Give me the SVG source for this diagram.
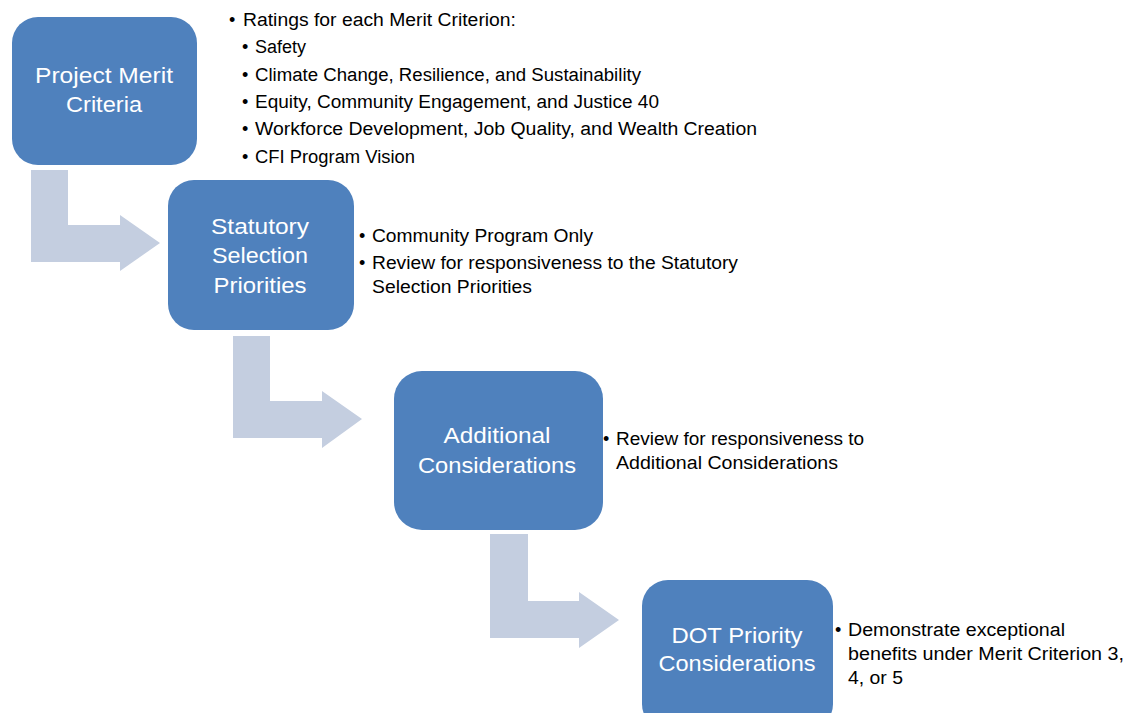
<svg xmlns="http://www.w3.org/2000/svg" width="1134" height="713" viewBox="0 0 1134 713">
<style>
.box{fill:#4F81BD;}
.arr{fill:#C4CEE0;}
.t{font-family:"Liberation Sans",Arial,sans-serif;font-size:22px;fill:#FFFFFF;text-anchor:middle;}
.b{font-family:"Liberation Sans",Arial,sans-serif;font-size:18px;fill:#000000;}
</style>
<rect width="1134" height="713" fill="#FFFFFF"/>
<g id="connectors">
<polygon class="arr" points="31,170 68,170 68,225 120,225 120,215 160,243 120,271 120,262 31,262"/>
<polygon class="arr" points="233,336 270,336 270,401 322,401 322,391 362,419 322,448 322,438 233,438"/>
<polygon class="arr" points="490,534 528,534 528,601 579,601 579,592 619,620 579,648 579,638 490,638"/>
</g>
<g id="node1">
<rect class="box" x="12" y="17" width="185" height="148" rx="26" ry="26"/>
<text class="t" x="104" y="83" textLength="138" lengthAdjust="spacingAndGlyphs">Project Merit</text>
<text class="t" x="104" y="112" textLength="76" lengthAdjust="spacingAndGlyphs">Criteria</text>
</g>
<g id="node1-text">
<text class="b" x="229" y="26">•</text>
<text class="b" x="243" y="26" textLength="273" lengthAdjust="spacingAndGlyphs">Ratings for each Merit Criterion:</text>
<text class="b" x="242" y="53">•</text>
<text class="b" x="255" y="53" textLength="51" lengthAdjust="spacingAndGlyphs">Safety</text>
<text class="b" x="242" y="81">•</text>
<text class="b" x="255" y="81" textLength="386" lengthAdjust="spacingAndGlyphs">Climate Change, Resilience, and Sustainability</text>
<text class="b" x="242" y="108">•</text>
<text class="b" x="255" y="108" textLength="404" lengthAdjust="spacingAndGlyphs">Equity, Community Engagement, and Justice 40</text>
<text class="b" x="242" y="135">•</text>
<text class="b" x="255" y="135" textLength="502" lengthAdjust="spacingAndGlyphs">Workforce Development, Job Quality, and Wealth Creation</text>
<text class="b" x="242" y="163">•</text>
<text class="b" x="255" y="163" textLength="160" lengthAdjust="spacingAndGlyphs">CFI Program Vision</text>
</g>
<g id="node2">
<rect class="box" x="168" y="180" width="186" height="150" rx="26" ry="26"/>
<text class="t" x="260" y="234" textLength="98" lengthAdjust="spacingAndGlyphs">Statutory</text>
<text class="t" x="260" y="263" textLength="96" lengthAdjust="spacingAndGlyphs">Selection</text>
<text class="t" x="260" y="293" textLength="93" lengthAdjust="spacingAndGlyphs">Priorities</text>
</g>
<g id="node2-text">
<text class="b" x="359" y="242">•</text>
<text class="b" x="372" y="242" textLength="221" lengthAdjust="spacingAndGlyphs">Community Program Only</text>
<text class="b" x="359" y="269">•</text>
<text class="b" x="372" y="269" textLength="366" lengthAdjust="spacingAndGlyphs">Review for responsiveness to the Statutory</text>
<text class="b" x="372" y="293" textLength="160" lengthAdjust="spacingAndGlyphs">Selection Priorities</text>
</g>
<g id="node3">
<rect class="box" x="394" y="371" width="209" height="159" rx="28" ry="28"/>
<text class="t" x="497" y="443" textLength="107" lengthAdjust="spacingAndGlyphs">Additional</text>
<text class="t" x="497" y="473" textLength="158" lengthAdjust="spacingAndGlyphs">Considerations</text>
</g>
<g id="node3-text">
<text class="b" x="603" y="445">•</text>
<text class="b" x="616" y="445" textLength="248" lengthAdjust="spacingAndGlyphs">Review for responsiveness to</text>
<text class="b" x="616" y="469" textLength="222" lengthAdjust="spacingAndGlyphs">Additional Considerations</text>
</g>
<g id="node4">
<rect class="box" x="642" y="580" width="191" height="150" rx="26" ry="26"/>
<text class="t" x="737" y="643" textLength="131" lengthAdjust="spacingAndGlyphs">DOT Priority</text>
<text class="t" x="737" y="671" textLength="157" lengthAdjust="spacingAndGlyphs">Considerations</text>
</g>
<g id="node4-text">
<text class="b" x="835" y="636">•</text>
<text class="b" x="848" y="636" textLength="217" lengthAdjust="spacingAndGlyphs">Demonstrate exceptional</text>
<text class="b" x="848" y="660" textLength="276" lengthAdjust="spacingAndGlyphs">benefits under Merit Criterion 3,</text>
<text class="b" x="848" y="684" textLength="55" lengthAdjust="spacingAndGlyphs">4, or 5</text>
</g>
</svg>
